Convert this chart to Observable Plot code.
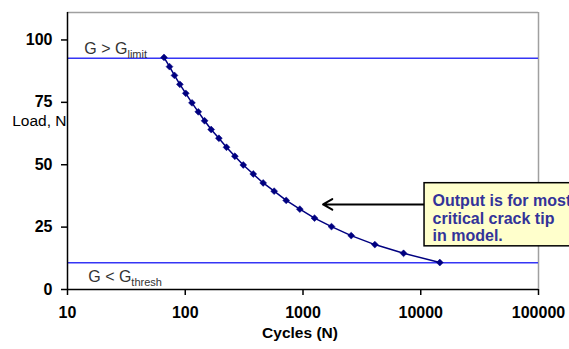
<!DOCTYPE html>
<html>
<head>
<meta charset="utf-8">
<script src="https://cdn.jsdelivr.net/npm/d3@7"></script>
<script src="https://cdn.jsdelivr.net/npm/@observablehq/plot@0.6"></script>
<style>
  html, body { margin: 0; padding: 0; background: #fff; overflow: hidden; width: 569px; height: 349px; }
  #chart svg { display: block; overflow: hidden; }
</style>
</head>
<body>
<div id="chart"></div>
<script>
// Data
const cycles = [66, 73.5, 81, 90, 101, 114, 129, 146, 166, 193, 224, 264, 311, 378, 459, 569, 720, 940, 1253, 1746, 2566, 4074, 7145, 14520];
const load = [93, 89.3, 85.8, 82.2, 78.6, 74.8, 71.2, 67.6, 64.1, 60.6, 57.0, 53.4, 49.9, 46.3, 42.7, 39.4, 35.7, 32.2, 28.6, 25.2, 21.6, 18.0, 14.5, 10.8];
const limitLoad = 92.7;
const threshLoad = 10.7;
const xTicks = [10, 100, 1000, 10000, 100000];
const yTicks = [0, 25, 50, 75, 100];
const xDomain = [10, 100000];
const yDomain = [0, 111];

// annotation (data coordinates)
const noteText = "Output is for most\ncritical crack tip\nin model.";
const noteBox = {x1: 10770, x2: 1e6, y1: 17.3, y2: 42.6};
const noteTextPos = {x: 12600, y: 38.4};
const arrowPos = {x1: 10770, y1: 34.1, x2: 1480, y2: 34.1};
const limitLabel = {x: 13.9, y: 94.3, text: "G > G|limit"};
const threshLabel = {x: 15.0, y: 3.0, text: "G < G|thresh"};

const pts = cycles.map((c, i) => ({cycles: c, load: load[i]}));

const chart = Plot.plot({
  width: 569,
  height: 349,
  marginLeft: 67,
  marginRight: 31,
  marginTop: 12,
  marginBottom: 60,
  style: {fontFamily: "'Liberation Sans', Arial, sans-serif", background: "#fff"},
  x: {type: "log", domain: xDomain, ticks: xTicks, tickFormat: d => String(d), label: null},
  y: {domain: yDomain, ticks: yTicks, label: null},
  marks: [
    // plot area gray border (top & right)
    Plot.ruleY([yDomain[1]], {stroke: "#a0a0a0", strokeWidth: 1.5}),
    Plot.ruleX([xDomain[1]], {stroke: "#a0a0a0", strokeWidth: 1.5}),
    // threshold lines
    Plot.ruleY([limitLoad, threshLoad], {stroke: "#3535f5", strokeWidth: 1.5}),
    // curve
    Plot.line(pts, {x: "cycles", y: "load", stroke: "#000080", strokeWidth: 1.5}),
    Plot.dot(pts, {x: "cycles", y: "load", symbol: "diamond2", r: 3.1, fill: "#000080", stroke: "#000080", strokeWidth: 0.5}),
    // axes
    Plot.axisX({ticks: xTicks, tickFormat: d => String(d), tickSize: 6, tickPadding: 11, fontSize: 16, fontWeight: "bold", fill: "#000", stroke: "#000", strokeWidth: 1.5, label: null}),
    Plot.axisY({ticks: yTicks, tickSize: 6, tickPadding: 9, fontSize: 16, fontWeight: "bold", fill: "#000", stroke: "#000", strokeWidth: 1.5, label: null}),
    Plot.ruleX([xDomain[0]], {stroke: "#000", strokeWidth: 1.5}),
    Plot.ruleY([yDomain[0]], {stroke: "#000", strokeWidth: 1.5}),
    // labels on lines
    Plot.text([limitLabel], {x: "x", y: "y", text: "text", textAnchor: "start", lineAnchor: "bottom", fontSize: 16, fill: "#333"}),
    Plot.text([threshLabel], {x: "x", y: "y", text: "text", textAnchor: "start", lineAnchor: "bottom", fontSize: 16, fill: "#333"}),
    // axis titles
    Plot.text(["Load, N"], {x: xDomain[0], y: 67.5, text: d => d, textAnchor: "end", dx: -1, fontSize: 15.5, fill: "#000"}),
    Plot.text(["Cycles (N)"], {frameAnchor: "bottom", text: d => d, dy: 48, dx: -3, fontSize: 15.5, fontWeight: "bold", fill: "#000"}),
    // annotation
    Plot.arrow([arrowPos], {x1: "x1", y1: "y1", x2: "x2", y2: "y2", stroke: "#000", strokeWidth: 2, headLength: 8}),
    Plot.rect([noteBox], {x1: "x1", x2: "x2", y1: "y1", y2: "y2", fill: "#ffffcc", stroke: "#000", strokeWidth: 1.5}),
    Plot.text([noteTextPos], {x: "x", y: "y", text: () => noteText, textAnchor: "start", lineAnchor: "top", lineHeight: 1.1, fontSize: 16, fontWeight: "bold", fill: "#333399"})
  ]
});

// subscripts
d3.select(chart).selectAll("text").each(function() {
  const t = this.textContent;
  if (t.includes("|") && this.childElementCount === 0) {
    const [main, sub] = t.split("|");
    const sel = d3.select(this);
    sel.text(null);
    sel.append("tspan").text(main);
    sel.append("tspan").attr("font-size", 11).attr("dy", 4).text(sub);
  }
});

document.getElementById("chart").appendChild(chart);
</script>
</body>
</html>
